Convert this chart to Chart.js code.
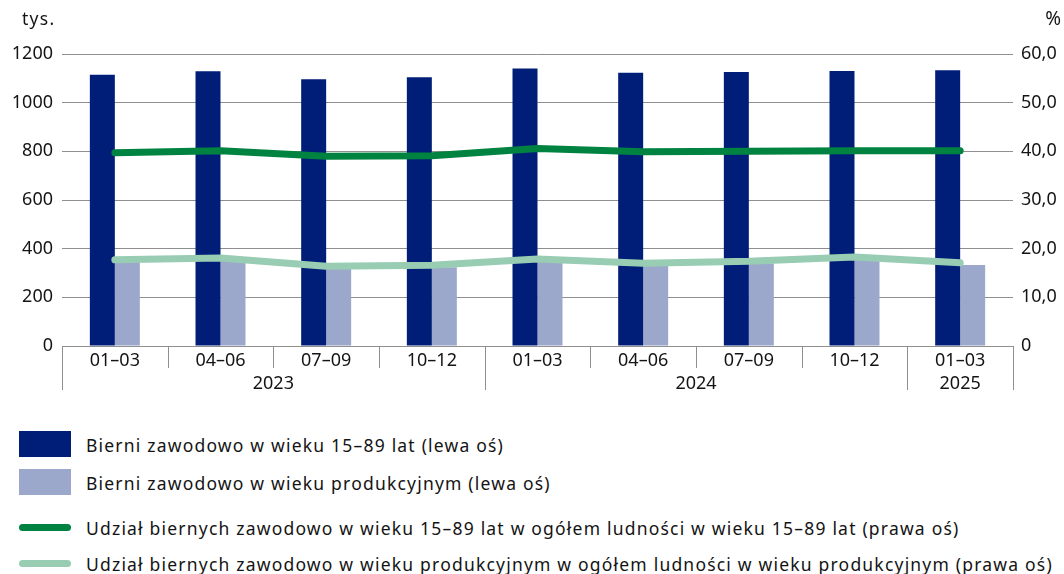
<!DOCTYPE html>
<html>
<head>
<meta charset="utf-8">
<script src="https://cdn.jsdelivr.net/npm/chart.js@4.4.1/dist/chart.umd.min.js"></script>
<style>
  html, body { margin: 0; padding: 0; background: #fff; }
  body { width: 1064px; height: 574px; position: relative; overflow: hidden; font-family: "Noto Sans", sans-serif; }
  #c { position: absolute; left: 0; top: 0; }
  .lg { position: absolute; left: 0; height: 30px; width: 1064px; }
  .lg .sw { position: absolute; left: 19px; }
  .lg .tx { position: absolute; left: 86px; top: 1px; line-height: 30px; font-size: 17.5px; letter-spacing: 1.2px; color: #141414; white-space: nowrap; }
</style>
</head>
<body>
<canvas id="c" width="1064" height="400"></canvas>
<div id="legend"></div>
<script>
const categories = ['01–03','04–06','07–09','10–12','01–03','04–06','07–09','10–12','01–03'];
const years = ['2023','2024','2025'];
const yearSpans = [4, 4, 1];
const bierni1589 = [1115, 1129, 1096, 1104, 1140, 1123, 1126, 1130, 1133];
const bierniProd = [345, 353, 320, 324, 349, 332, 339, 357, 333];
const udzial1589 = [39.7, 40.1, 39.0, 39.1, 40.6, 39.9, 40.0, 40.1, 40.1];
const udzialProd = [17.7, 18.1, 16.4, 16.6, 17.9, 17.0, 17.4, 18.3, 17.1];
const leftTicks = [0, 200, 400, 600, 800, 1000, 1200];
const rightTicks = [0, 10, 20, 30, 40, 50, 60];

const FONT = '"Noto Sans", sans-serif';
const GRID = '#8f8f8f';
const TXT = '#141414';

const decor = {
  id: 'decor',
  afterDraw(chart) {
    const ctx = chart.ctx, x = chart.scales.x, a = chart.chartArea;
    const y0 = a.bottom;
    const n = categories.length;
    const bounds = [a.left];
    for (let i = 0; i < n - 1; i++) bounds.push((x.getPixelForValue(i) + x.getPixelForValue(i + 1)) / 2);
    bounds.push(a.right);
    const yearStarts = [0];
    yearSpans.forEach((s, i) => yearStarts.push(yearStarts[i] + s));
    ctx.save();
    ctx.strokeStyle = GRID;
    ctx.lineWidth = 1;
    bounds.forEach((bx, i) => {
      const long = yearStarts.includes(i);
      const px = Math.round(bx) + 0.5;
      ctx.beginPath();
      ctx.moveTo(px, y0);
      ctx.lineTo(px, y0 + (long ? 44 : 22));
      ctx.stroke();
    });
    ctx.fillStyle = TXT;
    ctx.font = '18px ' + FONT;
    ctx.textAlign = 'center';
    ctx.textBaseline = 'middle';
    years.forEach((yr, i) => {
      const l = bounds[yearStarts[i]], r = bounds[yearStarts[i + 1]];
      ctx.fillText(yr, (l + r) / 2, y0 + 38);
    });
    ctx.textAlign = 'right';
    ctx.font = '19px ' + FONT;
    ctx.fillText('%', 1061, 20);
    ctx.font = '17.5px ' + FONT;
    try { ctx.letterSpacing = '1.3px'; } catch (e) {}
    ctx.textAlign = 'left';
    ctx.fillText('tys.', 22, 20);
    ctx.restore();
  }
};

const chart = new Chart(document.getElementById('c'), {
  data: {
    labels: categories,
    datasets: [
      { type: 'bar', label: 'Bierni zawodowo w wieku 15–89 lat (lewa oś)', data: bierni1589, backgroundColor: '#001e78', yAxisID: 'y', order: 2, categoryPercentage: 0.473, barPercentage: 1.0 },
      { type: 'bar', label: 'Bierni zawodowo w wieku produkcyjnym (lewa oś)', data: bierniProd, backgroundColor: '#9ba8cb', yAxisID: 'y', order: 2, categoryPercentage: 0.473, barPercentage: 1.0 },
      { type: 'line', label: 'Udział biernych zawodowo w wieku 15–89 lat w ogółem ludności w wieku 15–89 lat (prawa oś)', data: udzial1589, borderColor: '#008241', backgroundColor: '#008241', borderWidth: 7, pointRadius: 0, borderCapStyle: 'round', borderJoinStyle: 'round', tension: 0, yAxisID: 'y1', order: 0 },
      { type: 'line', label: 'Udział biernych zawodowo w wieku produkcyjnym w ogółem ludności w wieku produkcyjnym (prawa oś)', data: udzialProd, borderColor: '#99cdb3', backgroundColor: '#99cdb3', borderWidth: 7, pointRadius: 0, borderCapStyle: 'round', borderJoinStyle: 'round', tension: 0, yAxisID: 'y1', order: 1 }
    ]
  },
  options: {
    responsive: false,
    devicePixelRatio: 1,
    animation: false,
    layout: { padding: { top: 54, left: 0, right: 0, bottom: 4 } },
    plugins: { legend: { display: false }, tooltip: { enabled: false } },
    scales: {
      x: {
        type: 'category',
        grid: { display: false, drawTicks: false },
        border: { display: false },
        ticks: { color: TXT, font: { family: FONT, size: 18 }, padding: 4, maxRotation: 0, autoSkip: false },
        afterFit(s) { s.height = 50; }
      },
      y: {
        position: 'left', min: 0, max: 1200,
        afterBuildTicks(s) { s.ticks = leftTicks.map(v => ({ value: v })); },
        grid: { color: GRID, lineWidth: 1, drawTicks: false },
        border: { display: false },
        ticks: { color: TXT, font: { family: FONT, size: 18 }, padding: 9, callback: v => String(v) },
        afterFit(s) { s.width = 62; }
      },
      y1: {
        position: 'right', min: 0, max: 60,
        afterBuildTicks(s) { s.ticks = rightTicks.map(v => ({ value: v })); },
        grid: { display: false, drawTicks: false },
        border: { display: false },
        ticks: { color: TXT, font: { family: FONT, size: 18 }, padding: 8,
          callback: v => v === 0 ? '0' : v.toFixed(1).replace('.', ',') },
        afterFit(s) { s.width = 51; }
      }
    }
  },
  plugins: [decor]
});

// HTML legend built from chart datasets
const legendTops = [429, 467, 512, 548];
const lg = document.getElementById('legend');
chart.data.datasets.forEach((ds, i) => {
  const row = document.createElement('div');
  row.className = 'lg';
  row.style.top = legendTops[i] + 'px';
  const sw = document.createElement('div');
  sw.className = 'sw';
  if (ds.type === 'bar') {
    sw.style.cssText += 'top:2px;width:52px;height:26px;background:' + ds.backgroundColor + ';';
  } else {
    sw.style.cssText += 'top:12px;width:52px;height:7px;border-radius:4px;background:' + ds.borderColor + ';';
  }
  const tx = document.createElement('div');
  tx.className = 'tx';
  tx.textContent = ds.label;
  row.appendChild(sw);
  row.appendChild(tx);
  lg.appendChild(row);
});
</script>
</body>
</html>
